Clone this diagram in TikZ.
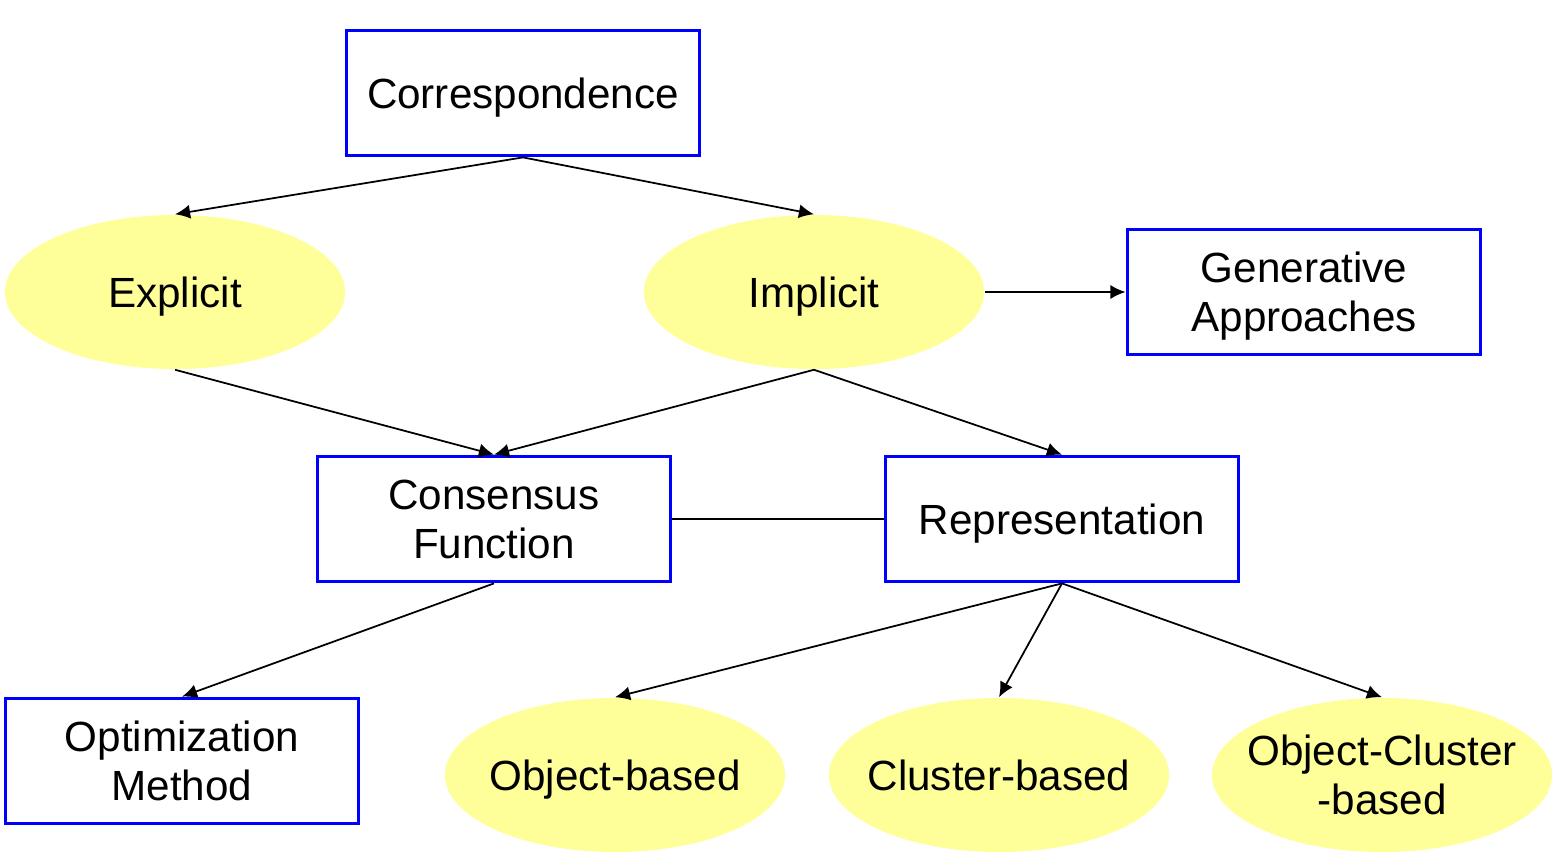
\documentclass[tikz,border=0pt]{standalone}
\usepackage{fontspec}
\setmainfont{Liberation Sans}
\usetikzlibrary{shapes.geometric,arrows.meta}
\definecolor{boxblue}{RGB}{0,0,255}
\definecolor{ovalyellow}{RGB}{255,255,153}
\tikzset{
  topicbox/.style={draw=boxblue, line width=1.05pt, rectangle, minimum width=3.53cm, minimum height=1.25cm, align=center, inner sep=0pt, text depth=0pt, font=\fontsize{12}{14}\selectfont},
  topicoval/.style={ellipse, fill=ovalyellow, minimum width=3.4cm, minimum height=1.54cm, align=center, inner xsep=-0.6cm, inner ysep=-0.2cm, text depth=0pt, font=\fontsize{12}{14}\selectfont},
  link/.style={line width=0.5pt}
}
\begin{document}
\begin{tikzpicture}[x=0.01cm,y=-0.01cm,>={Latex[length=4.3pt,width=4pt]}]
\useasboundingbox (0,0) rectangle (1560,854);
\node[topicbox] (corr) at (523,93) {Correspondence};
\node[topicoval] (expl) at (175,292) {Explicit};
\node[topicoval] (impl) at (814,292) {Implicit};
\node[topicbox] (gen) at (1304,292) {Generative\\Approaches};
\node[topicbox] (cons) at (494,519) {Consensus\\Function};
\node[topicbox] (repr) at (1062,519) {Representation};
\node[topicbox] (optim) at (182,761) {Optimization\\Method};
\node[topicoval] (objb) at (615,775) {Object-based};
\node[topicoval] (club) at (999,775) {Cluster-based};
\node[topicoval] (objclu) at (1382,775) {Object-Cluster\\-based};
\draw[link,->] (corr.south)--(expl.north);
\draw[link,->] (corr.south)--(impl.north);
\draw[link,->] (impl.east)--(gen.west);
\draw[link,->] (expl.south)--(cons.north);
\draw[link,->] (impl.south)--(cons.north);
\draw[link,->] (impl.south)--(repr.north);
\draw[link] (cons.east)--(repr.west);
\draw[link,->] (cons.south)--(optim.north);
\foreach \Leaf in {objb,club,objclu}{
    \draw[link,->] (repr.south)--(\Leaf.north);
}
\end{tikzpicture}
\end{document}
